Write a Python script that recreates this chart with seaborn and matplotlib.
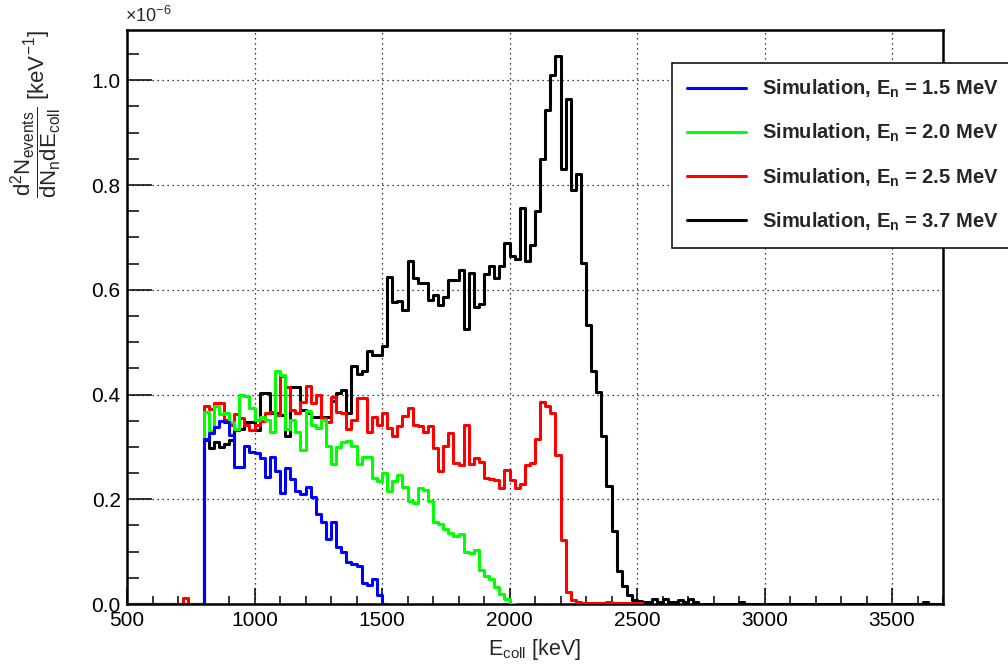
import numpy as np
import pandas as pd
import matplotlib
matplotlib.use("Agg")
import matplotlib.pyplot as plt
import seaborn as sns
from matplotlib.lines import Line2D
from matplotlib.ticker import MultipleLocator, FormatStrFormatter
from matplotlib.font_manager import FontProperties

sns.set_style("white")
plt.rcParams['font.family'] = ['Liberation Sans', 'DejaVu Sans']
plt.rcParams['mathtext.fontset'] = 'custom'
plt.rcParams['mathtext.rm'] = 'Liberation Sans'
plt.rcParams['mathtext.it'] = 'Liberation Sans'
plt.rcParams['mathtext.bf'] = 'Liberation Sans:bold'
plt.rcParams['mathtext.sf'] = 'Liberation Sans'

# ---------------- data (units of 1e-6 keV^-1), 20 keV bins ----------------
BIN_WIDTH = 20
X_MIN, X_MAX = 500, 3700

series_names = ["1.5", "2.0", "2.5", "3.7"]
series_labels = [r"Simulation, E$_\mathbf{n}$ = 1.5 MeV",
                 r"Simulation, E$_\mathbf{n}$ = 2.0 MeV",
                 r"Simulation, E$_\mathbf{n}$ = 2.5 MeV",
                 r"Simulation, E$_\mathbf{n}$ = 3.7 MeV"]
series_colors = ["#0000ff", "#00ff00", "#ff0000", "#000000"]
series_range_end = [1520, 2020, 2520, 3700]

blue_start = 800
blue_values = [0.316, 0.326, 0.338, 0.350, 0.348, 0.323, 0.262, 0.262, 0.302, 0.291,
               0.288, 0.278, 0.243, 0.280, 0.253, 0.211, 0.259, 0.238, 0.216, 0.210,
               0.224, 0.204, 0.172, 0.157, 0.125, 0.157, 0.109, 0.100, 0.081, 0.076,
               0.072, 0.040, 0.036, 0.047, 0.018]

green_start = 800
green_values = [0.367, 0.330, 0.378, 0.362, 0.365, 0.348, 0.335, 0.400, 0.398, 0.375,
                0.352, 0.357, 0.352, 0.329, 0.444, 0.437, 0.335, 0.351, 0.329, 0.295,
                0.369, 0.342, 0.337, 0.351, 0.302, 0.267, 0.299, 0.310, 0.311, 0.302,
                0.267, 0.281, 0.280, 0.240, 0.234, 0.251, 0.215, 0.234, 0.246, 0.224,
                0.196, 0.192, 0.221, 0.218, 0.196, 0.157, 0.153, 0.143, 0.135, 0.129,
                0.134, 0.100, 0.098, 0.103, 0.064, 0.054, 0.048, 0.032, 0.019, 0.010]

red_start = 720
red_values = [0.012, 0.0, 0.0, 0.0,
              0.378, 0.372, 0.383, 0.383, 0.352, 0.342, 0.362, 0.355, 0.342, 0.332,
              0.342, 0.350, 0.364, 0.367, 0.360, 0.436, 0.415, 0.370, 0.364, 0.386,
              0.416, 0.383, 0.399, 0.355, 0.348, 0.396, 0.367, 0.364, 0.334, 0.351,
              0.393, 0.393, 0.329, 0.357, 0.342, 0.364, 0.336, 0.321, 0.339, 0.359,
              0.375, 0.342, 0.340, 0.329, 0.339, 0.297, 0.254, 0.302, 0.326, 0.270,
              0.265, 0.341, 0.267, 0.279, 0.272, 0.240, 0.238, 0.237, 0.221, 0.256,
              0.237, 0.222, 0.229, 0.266, 0.270, 0.316, 0.386, 0.379, 0.364, 0.285,
              0.122, 0.023, 0.008, 0.003, 0.002, 0.002, 0.002, 0.002, 0.002, 0.004,
              0.002, 0.002, 0.002, 0.002, 0.002, 0.002]

black_start = 800
black_values = [0.313, 0.297, 0.310, 0.300, 0.306, 0.313, 0.332, 0.335, 0.348, 0.348,
                0.332, 0.402, 0.402, 0.364, 0.364, 0.361, 0.320, 0.415, 0.415, 0.370,
                0.365, 0.358, 0.357, 0.358, 0.358, 0.387, 0.402, 0.409, 0.364, 0.455,
                0.439, 0.444, 0.484, 0.476, 0.476, 0.492, 0.625, 0.577, 0.578, 0.561,
                0.654, 0.622, 0.612, 0.612, 0.580, 0.590, 0.571, 0.587, 0.619, 0.619,
                0.638, 0.526, 0.632, 0.568, 0.572, 0.630, 0.645, 0.622, 0.645, 0.690,
                0.665, 0.658, 0.756, 0.654, 0.686, 0.750, 0.849, 0.944, 1.011, 1.047,
                0.830, 0.964, 0.790, 0.822, 0.651, 0.533, 0.445, 0.404, 0.321, 0.225,
                0.139, 0.063, 0.034, 0.018, 0.008, 0.006, 0.003, 0.003, 0.010, 0.003,
                0.010, 0.003, 0.003, 0.008, 0.003, 0.009, 0.003]
black_extra_E = [2900, 3620]
black_extra_values = [0.004, 0.004]

x_major_ticks = [500, 1000, 1500, 2000, 2500, 3000, 3500]
y_major_ticks = [0.0, 0.2, 0.4, 0.6, 0.8, 1.0]

# ---------------- build table ----------------
n_bins = (X_MAX - X_MIN) // BIN_WIDTH
centers = X_MIN + BIN_WIDTH * (np.arange(n_bins) + 0.5)


def place(start, vals, extra_E=(), extra_v=()):
    arr = np.zeros(n_bins)
    i0 = (start - X_MIN) // BIN_WIDTH
    arr[i0:i0 + len(vals)] = vals
    for e, v in zip(extra_E, extra_v):
        arr[(e - X_MIN) // BIN_WIDTH] = v
    return arr


series_arrays = {
    "1.5": place(blue_start, blue_values),
    "2.0": place(green_start, green_values),
    "2.5": place(red_start, red_values),
    "3.7": place(black_start, black_values, black_extra_E, black_extra_values),
}
df = pd.concat([pd.DataFrame({"E": centers, "value": series_arrays[s], "series": s})
                for s in series_names], ignore_index=True)

# ---------------- figure ----------------
W, H = 1008, 664
fig = plt.figure(figsize=(W / 100, H / 100), dpi=100)
fig.patch.set_facecolor("white")
L, R, T, B = 127, 943, 30, 604
ax = fig.add_axes([L / W, (H - B) / H, (R - L) / W, (B - T) / H])

color_map = dict(zip(series_names, series_colors))
end_map = dict(zip(series_names, series_range_end))
for s in ["3.7", "2.5", "2.0", "1.5"]:
    sub = df[(df["series"] == s) & (df["E"] < end_map[s])].reset_index(drop=True)
    sns.histplot(data=sub, x="E", weights="value", binwidth=BIN_WIDTH,
                 binrange=(X_MIN, end_map[s]), element="step", fill=False,
                 color=color_map[s], linewidth=2.2, zorder=6, ax=ax)

ax.set_xlim(X_MIN, X_MAX)
ax.set_ylim(0, 1.096)
ax.set_xlabel("")
ax.set_ylabel("")

ax.xaxis.set_major_locator(matplotlib.ticker.FixedLocator(x_major_ticks))
ax.xaxis.set_minor_locator(MultipleLocator(100))
ax.yaxis.set_major_locator(matplotlib.ticker.FixedLocator(y_major_ticks))
ax.yaxis.set_minor_locator(MultipleLocator(0.05))
ax.yaxis.set_major_formatter(FormatStrFormatter("%.1f"))
ax.xaxis.set_major_formatter(FormatStrFormatter("%d"))
ax.tick_params(which="both", direction="in", bottom=True, left=True, top=False,
               right=False, colors="black", width=1.1, labelsize=15)
ax.tick_params(axis="x", which="major", length=11.5, pad=5)
ax.tick_params(axis="x", which="minor", length=5.8)
ax.tick_params(axis="y", which="major", length=18, pad=4.5)
ax.tick_params(axis="y", which="minor", length=8.6)

ax.grid(which="major", color="black", linestyle=(0, (1, 3)), linewidth=0.9)
ax.set_axisbelow(False)
for sp in ax.spines.values():
    sp.set_visible(True)
    sp.set_color("black")
    sp.set_linewidth(1.8)
    sp.set_zorder(5)

# texts
fig.text((L + R) / 2 / W, 1 - 650 / H, r"E$_{\rm coll}$ [keV]", ha="center", va="center",
         fontsize=15.5)
fig.text(37 / W, 1 - 30 / H,
         r"$\dfrac{\rm d^{2}N_{events}}{\rm dN_{n}dE_{coll}}$ [keV$^{-1}$]",
         rotation=90, ha="center", va="top", fontsize=16)
fig.text(125 / W, 1 - 16 / H, r"$\times$10$^{-6}$", ha="left", va="center", fontsize=13)

handles = [Line2D([0], [0], color=c, linewidth=2.2) for c in series_colors]
leg = ax.legend(handles, series_labels, loc="upper left",
                bbox_to_anchor=(672 / W, 1 - 63 / H), bbox_transform=fig.transFigure,
                frameon=True, fancybox=False, edgecolor="black", framealpha=1,
                prop=FontProperties(family="Liberation Sans", weight="bold", size=14.5),
                handlelength=2.9, handletextpad=0.8, borderpad=0.75, labelspacing=1.08,
                borderaxespad=0)
leg.get_frame().set_linewidth(1.1)
leg.set_zorder(10)

fig.savefig("out.png", dpi=100, facecolor="white")
